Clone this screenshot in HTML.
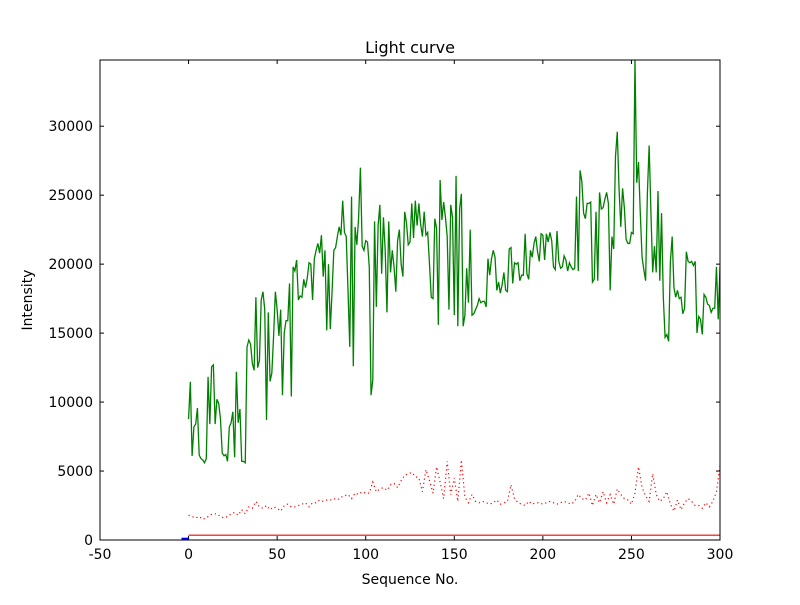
<!DOCTYPE html>
<html><head><meta charset="utf-8"><style>
body{margin:0;background:#fff;}
svg text{font-family:"DejaVu Sans","Liberation Sans",sans-serif;}
</style></head><body>
<svg id="chart" width="800" height="600" xmlns="http://www.w3.org/2000/svg">
<rect width="800" height="600" fill="#fff"/>
<defs><clipPath id="clip"><rect x="100" y="60" width="620" height="480"/></clipPath></defs>
<text x="410" y="53" text-anchor="middle" font-size="16">Light curve</text>
<text x="410" y="584" text-anchor="middle" font-size="14">Sequence No.</text>
<text x="32" y="300" text-anchor="middle" font-size="14" transform="rotate(-90 32 300)">Intensity</text>
<g id="ticks"></g>
<g id="series" clip-path="url(#clip)"></g>
<rect x="100" y="60" width="620" height="480" fill="none" stroke="#000" stroke-width="1"/>
</svg>
<script>
const xTicks=[-50,0,50,100,150,200,250,300];
const yTicks=[0,5000,10000,15000,20000,25000,30000];
const greenValues=[8770,11470,6090,8200,8400,9570,6160,5900,5800,5600,
5900,11830,8400,12560,12700,8400,10200,9900,8800,6300,
6100,6200,5700,8200,8500,9300,6000,12200,8500,9500,
5700,5700,5600,14000,14500,14200,12800,12300,17600,12500,
13000,17400,18000,16700,8700,16500,11500,12100,14800,18000,
16700,14800,16700,10500,15000,15900,15900,18600,10400,19800,19500,
20300,17400,17700,17600,18900,18300,19000,20100,20000,17400,20400,21000,
21500,20800,22100,19100,21000,15200,20000,15300,18000,21000,21200,22000,
22700,22100,24600,22300,
22000,18100,14000,24900,12600,22700,21400,23400,27000,21300,21000,21700,21600,19800,10500,11600,23100,16900,22800,24300,19300,23400,21000,16500,23100,19400,21000,19800,18000,21700,22500,20000,19100,23800,23000,21400,21600,24400,21900,24600,22800,24400,22900,22000,23800,22100,22300,20000,17600,17500,23300,22600,15600,
26100,23200,24500,23400,22000,16700,24300,23400,16300,26400,15500,24000,25100,15500,16300,19700,17200,22500,16300,16400,16700,17000,17500,17200,17300,17300,16900,20400,
19200,20400,21000,20500,18100,18700,17900,18500,19400,18100,18000,21100,21200,18600,20100,20000,20100,18800,19200,19200,22200,19300,18900,
21000,20500,21500,22000,20900,20200,22200,22100,20300,22200,21600,22300,21700,19800,19600,22400,20200,19700,19800,20600,20300,19500,20100,19800,19600,19700,24900,19500,26800,26000,23700,23300,24400,24400,24500,18700,18900,23800,18800,25200,24000,24100,24700,25200,24400,18100,22000,21100,27800,29600,25500,22700,25500,24100,21800,21500,21500,22300,22200,34800,25900,27400,23700,20500,19600,18800,25100,28600,23800,19400,21300,19400,25300,18800,23700,17600,14700,14900,14400,20200,22000,18300,17600,18100,17500,17600,16400,16800,20900,20200,20100,20200,19900,20200,15000,16200,16000,14900,17800,17600,17100,17000,16500,16800,16800,19800,16000,19800,19000];
const redStep=2;
const redValues=[1800,1700,1600,1700,1500,1600,1800,1900,1900,1700,1600,
1700,1900,2000,1800,2200,1900,2400,2300,2800,2400,
2300,2500,2200,2400,2300,2100,2500,2600,2400,2400,
2500,2600,2700,2400,2700,2700,2900,2800,2900,2900,
3000,2900,3100,3200,3300,3000,3400,3300,3500,3400,
3400,4200,3500,3700,3800,3600,4000,4100,3800,4300,
4700,4800,4900,4600,4500,3500,5100,4300,3400,5300,
4200,3000,5700,3300,4500,2800,5800,3100,2700,3300,
2800,2700,2800,2700,2600,2700,2900,2600,2700,2800,
4000,3000,2700,2600,2500,2800,2600,2700,2700,2600,
2700,2800,2700,2600,2700,2800,2700,2600,2800,3300,
3000,2900,3400,2500,3300,2700,3500,2700,3300,2600,
3700,3300,3000,2900,2600,3400,5300,3800,3200,2800,
4800,3300,2800,3000,3500,2600,2100,2900,2200,2700,
3000,2800,2500,2500,2300,2700,2400,2800,3500,5400];
const baselineX=[0,300];
const baselineY=[350,350];
const blueX=[-4,0];
const blueY=[60,60];

const X0=-50,X1=300,Y0=0,Y1=34800;
const L=100,R=720,T=60,B=540;
const sx=v=>L+(v-X0)/(X1-X0)*(R-L);
const sy=v=>B-(v-Y0)/(Y1-Y0)*(B-T);
const NS='http://www.w3.org/2000/svg';
const tg=document.getElementById('ticks');
const sg=document.getElementById('series');
function mk(tag,parent){const e=document.createElementNS(NS,tag);parent.appendChild(e);return e;}
xTicks.forEach(t=>{
  const x=sx(t);
  [[B,B-4],[T,T+4]].forEach(p=>{const l=mk('line',tg);l.setAttribute('x1',x);l.setAttribute('x2',x);l.setAttribute('y1',p[0]);l.setAttribute('y2',p[1]);l.setAttribute('stroke','#000');
  
  });
  const tx=mk('text',tg);tx.setAttribute('x',x);tx.setAttribute('y',B+19);tx.setAttribute('text-anchor','middle');tx.setAttribute('font-size','14');tx.textContent=t;
  
  
});
yTicks.forEach(t=>{
  const y=sy(t);
  [[L,L+4],[R,R-4]].forEach(p=>{const l=mk('line',tg);l.setAttribute('x1',p[0]);l.setAttribute('x2',p[1]);l.setAttribute('y1',y);l.setAttribute('y2',y);l.setAttribute('stroke','#000');
  
  });
  const tx=mk('text',tg);tx.setAttribute('x',L-7);tx.setAttribute('y',y+5);tx.setAttribute('text-anchor','end');tx.setAttribute('font-size','14');tx.textContent=t;
  
  
});
function poly(xs,ys,color,w,dash,name){
  const p=mk('polyline',sg);
  p.setAttribute('points',xs.map((x,i)=>sx(x).toFixed(2)+','+sy(ys[i]).toFixed(2)).join(' '));
  p.setAttribute('fill','none');p.setAttribute('stroke',color);p.setAttribute('stroke-width',w);
  if(dash)p.setAttribute('stroke-dasharray',dash);
  
  
}
poly(redValues.map((v,i)=>i*redStep),redValues,'#ff0000',1.2,'1.2,3','red-dotted-series');
poly(baselineX,baselineY,'#ff0000',1.2,null,'red-baseline');
poly(blueX,blueY,'#0000ff',3,null,'blue-segment');
poly(greenValues.map((v,i)=>i),greenValues,'#008000',1.3,null,'green-light-curve');
</script>
</body></html>
